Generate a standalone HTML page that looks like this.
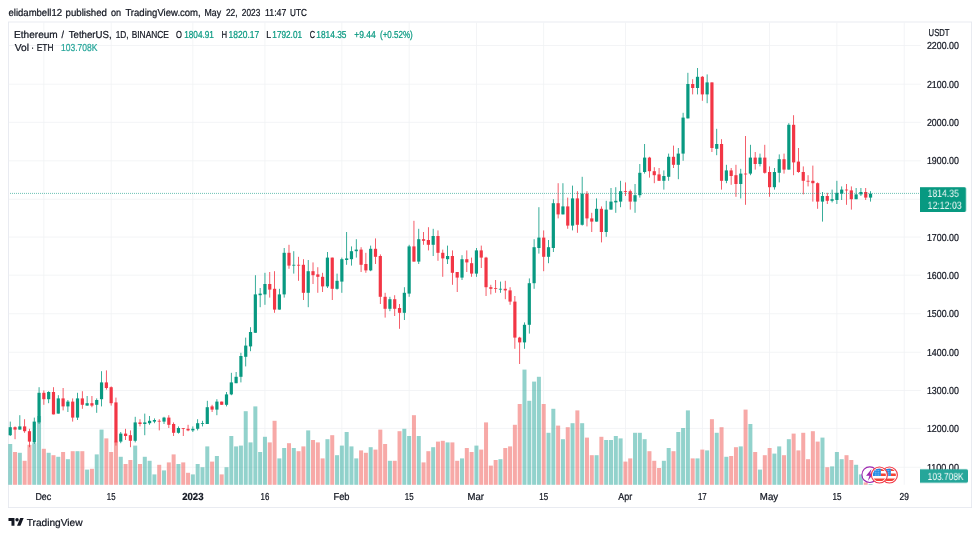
<!DOCTYPE html>
<html><head><meta charset="utf-8"><title>ETHUSDT chart</title>
<style>html,body{margin:0;padding:0;background:#fff}body{width:980px;height:536px;overflow:hidden}svg{display:block;will-change:transform}</style>
</head><body>
<svg width="980" height="536" viewBox="0 0 1225 670" font-family="'Liberation Sans', Arial, sans-serif" font-size="12.7" text-rendering="geometricPrecision" fill="#131722">
<rect width="1225" height="670" fill="#fff"/>
<rect x="10.5" y="27.5" width="1204" height="607" fill="none" stroke="#e4e7ee" stroke-width="1"/>
<rect x="11" y="583.5" width="1140" height="1" fill="#f0f2f4"/>
<rect x="11" y="534.9" width="1140" height="1" fill="#f0f2f4"/>
<rect x="11" y="487.5" width="1140" height="1" fill="#f0f2f4"/>
<rect x="11" y="439.75" width="1140" height="1" fill="#f0f2f4"/>
<rect x="11" y="391.75" width="1140" height="1" fill="#f0f2f4"/>
<rect x="11" y="343.4" width="1140" height="1" fill="#f0f2f4"/>
<rect x="11" y="295.8" width="1140" height="1" fill="#f0f2f4"/>
<rect x="11" y="248.5" width="1140" height="1" fill="#f0f2f4"/>
<rect x="11" y="200.6" width="1140" height="1" fill="#f0f2f4"/>
<rect x="11" y="152.3" width="1140" height="1" fill="#f0f2f4"/>
<rect x="11" y="104.7" width="1140" height="1" fill="#f0f2f4"/>
<rect x="11" y="56.25" width="1140" height="1" fill="#f0f2f4"/>
<rect x="54.33" y="28" width="1" height="578" fill="#f0f2f4"/>
<rect x="138.44" y="28" width="1" height="578" fill="#f0f2f4"/>
<rect x="240.57" y="28" width="1" height="578" fill="#f0f2f4"/>
<rect x="330.69" y="28" width="1" height="578" fill="#f0f2f4"/>
<rect x="426.82" y="28" width="1" height="578" fill="#f0f2f4"/>
<rect x="510.92" y="28" width="1" height="578" fill="#f0f2f4"/>
<rect x="595.03" y="28" width="1" height="578" fill="#f0f2f4"/>
<rect x="679.14" y="28" width="1" height="578" fill="#f0f2f4"/>
<rect x="781.27" y="28" width="1" height="578" fill="#f0f2f4"/>
<rect x="877.4" y="28" width="1" height="578" fill="#f0f2f4"/>
<rect x="961.51" y="28" width="1" height="578" fill="#f0f2f4"/>
<rect x="1045.61" y="28" width="1" height="578" fill="#f0f2f4"/>
<rect x="1129.72" y="28" width="1" height="578" fill="#f0f2f4"/>
<rect x="10.28" y="555" width="5" height="51" fill="rgba(38,166,154,0.5)"/>
<rect x="16.29" y="565" width="5" height="41" fill="rgba(239,83,80,0.5)"/>
<rect x="22.30" y="566" width="5" height="40" fill="rgba(38,166,154,0.5)"/>
<rect x="28.30" y="576" width="5" height="30" fill="rgba(239,83,80,0.5)"/>
<rect x="34.31" y="556" width="5" height="50" fill="rgba(239,83,80,0.5)"/>
<rect x="40.32" y="554" width="5" height="52" fill="rgba(38,166,154,0.5)"/>
<rect x="46.33" y="520" width="5" height="86" fill="rgba(38,166,154,0.5)"/>
<rect x="52.33" y="561" width="5" height="45" fill="rgba(239,83,80,0.5)"/>
<rect x="58.34" y="566" width="5" height="40" fill="rgba(38,166,154,0.5)"/>
<rect x="64.35" y="569" width="5" height="37" fill="rgba(239,83,80,0.5)"/>
<rect x="70.36" y="571" width="5" height="35" fill="rgba(38,166,154,0.5)"/>
<rect x="76.37" y="565" width="5" height="41" fill="rgba(239,83,80,0.5)"/>
<rect x="82.37" y="574" width="5" height="32" fill="rgba(38,166,154,0.5)"/>
<rect x="88.38" y="564" width="5" height="42" fill="rgba(239,83,80,0.5)"/>
<rect x="94.39" y="564" width="5" height="42" fill="rgba(38,166,154,0.5)"/>
<rect x="100.40" y="564" width="5" height="42" fill="rgba(239,83,80,0.5)"/>
<rect x="106.40" y="587" width="5" height="19" fill="rgba(38,166,154,0.5)"/>
<rect x="112.41" y="586" width="5" height="20" fill="rgba(239,83,80,0.5)"/>
<rect x="118.42" y="568" width="5" height="38" fill="rgba(38,166,154,0.5)"/>
<rect x="124.43" y="537" width="5" height="69" fill="rgba(38,166,154,0.5)"/>
<rect x="130.44" y="548" width="5" height="58" fill="rgba(239,83,80,0.5)"/>
<rect x="136.44" y="565" width="5" height="41" fill="rgba(239,83,80,0.5)"/>
<rect x="142.45" y="552" width="5" height="54" fill="rgba(239,83,80,0.5)"/>
<rect x="148.46" y="571" width="5" height="35" fill="rgba(38,166,154,0.5)"/>
<rect x="154.47" y="580" width="5" height="26" fill="rgba(239,83,80,0.5)"/>
<rect x="160.47" y="575" width="5" height="31" fill="rgba(239,83,80,0.5)"/>
<rect x="166.48" y="557" width="5" height="49" fill="rgba(38,166,154,0.5)"/>
<rect x="172.49" y="580" width="5" height="26" fill="rgba(239,83,80,0.5)"/>
<rect x="178.50" y="571" width="5" height="35" fill="rgba(38,166,154,0.5)"/>
<rect x="184.51" y="576" width="5" height="30" fill="rgba(38,166,154,0.5)"/>
<rect x="190.51" y="593" width="5" height="13" fill="rgba(38,166,154,0.5)"/>
<rect x="196.52" y="581" width="5" height="25" fill="rgba(239,83,80,0.5)"/>
<rect x="202.53" y="588" width="5" height="18" fill="rgba(38,166,154,0.5)"/>
<rect x="208.54" y="578" width="5" height="28" fill="rgba(239,83,80,0.5)"/>
<rect x="214.54" y="568" width="5" height="38" fill="rgba(239,83,80,0.5)"/>
<rect x="220.55" y="580" width="5" height="26" fill="rgba(38,166,154,0.5)"/>
<rect x="226.56" y="578" width="5" height="28" fill="rgba(239,83,80,0.5)"/>
<rect x="232.57" y="591" width="5" height="15" fill="rgba(239,83,80,0.5)"/>
<rect x="238.57" y="593" width="5" height="13" fill="rgba(38,166,154,0.5)"/>
<rect x="244.58" y="580" width="5" height="26" fill="rgba(38,166,154,0.5)"/>
<rect x="250.59" y="584" width="5" height="22" fill="rgba(38,166,154,0.5)"/>
<rect x="256.60" y="558" width="5" height="48" fill="rgba(38,166,154,0.5)"/>
<rect x="262.61" y="577" width="5" height="29" fill="rgba(239,83,80,0.5)"/>
<rect x="268.61" y="570" width="5" height="36" fill="rgba(38,166,154,0.5)"/>
<rect x="274.62" y="593" width="5" height="13" fill="rgba(239,83,80,0.5)"/>
<rect x="280.63" y="584" width="5" height="22" fill="rgba(38,166,154,0.5)"/>
<rect x="286.64" y="545" width="5" height="61" fill="rgba(38,166,154,0.5)"/>
<rect x="292.64" y="558" width="5" height="48" fill="rgba(38,166,154,0.5)"/>
<rect x="298.65" y="557" width="5" height="49" fill="rgba(38,166,154,0.5)"/>
<rect x="304.66" y="514" width="5" height="92" fill="rgba(38,166,154,0.5)"/>
<rect x="310.67" y="553" width="5" height="53" fill="rgba(38,166,154,0.5)"/>
<rect x="316.68" y="508" width="5" height="98" fill="rgba(38,166,154,0.5)"/>
<rect x="322.68" y="565" width="5" height="41" fill="rgba(38,166,154,0.5)"/>
<rect x="328.69" y="546" width="5" height="60" fill="rgba(38,166,154,0.5)"/>
<rect x="334.70" y="553" width="5" height="53" fill="rgba(239,83,80,0.5)"/>
<rect x="340.71" y="526" width="5" height="80" fill="rgba(239,83,80,0.5)"/>
<rect x="346.71" y="573" width="5" height="33" fill="rgba(38,166,154,0.5)"/>
<rect x="352.72" y="560" width="5" height="46" fill="rgba(38,166,154,0.5)"/>
<rect x="358.73" y="554" width="5" height="52" fill="rgba(239,83,80,0.5)"/>
<rect x="364.74" y="560" width="5" height="46" fill="rgba(38,166,154,0.5)"/>
<rect x="370.75" y="564" width="5" height="42" fill="rgba(239,83,80,0.5)"/>
<rect x="376.75" y="558" width="5" height="48" fill="rgba(239,83,80,0.5)"/>
<rect x="382.76" y="538" width="5" height="68" fill="rgba(38,166,154,0.5)"/>
<rect x="388.77" y="550" width="5" height="56" fill="rgba(239,83,80,0.5)"/>
<rect x="394.78" y="553" width="5" height="53" fill="rgba(239,83,80,0.5)"/>
<rect x="400.78" y="573" width="5" height="33" fill="rgba(239,83,80,0.5)"/>
<rect x="406.79" y="549" width="5" height="57" fill="rgba(38,166,154,0.5)"/>
<rect x="412.80" y="544" width="5" height="62" fill="rgba(239,83,80,0.5)"/>
<rect x="418.81" y="569" width="5" height="37" fill="rgba(38,166,154,0.5)"/>
<rect x="424.82" y="557" width="5" height="49" fill="rgba(38,166,154,0.5)"/>
<rect x="430.82" y="540" width="5" height="66" fill="rgba(38,166,154,0.5)"/>
<rect x="436.83" y="558" width="5" height="48" fill="rgba(38,166,154,0.5)"/>
<rect x="442.84" y="573" width="5" height="33" fill="rgba(38,166,154,0.5)"/>
<rect x="448.85" y="563" width="5" height="43" fill="rgba(239,83,80,0.5)"/>
<rect x="454.85" y="566" width="5" height="40" fill="rgba(239,83,80,0.5)"/>
<rect x="460.86" y="559" width="5" height="47" fill="rgba(38,166,154,0.5)"/>
<rect x="466.87" y="562" width="5" height="44" fill="rgba(239,83,80,0.5)"/>
<rect x="472.88" y="537" width="5" height="69" fill="rgba(239,83,80,0.5)"/>
<rect x="478.89" y="555" width="5" height="51" fill="rgba(239,83,80,0.5)"/>
<rect x="484.89" y="576" width="5" height="30" fill="rgba(38,166,154,0.5)"/>
<rect x="490.90" y="576" width="5" height="30" fill="rgba(239,83,80,0.5)"/>
<rect x="496.91" y="539" width="5" height="67" fill="rgba(239,83,80,0.5)"/>
<rect x="502.92" y="536" width="5" height="70" fill="rgba(38,166,154,0.5)"/>
<rect x="508.92" y="545" width="5" height="61" fill="rgba(38,166,154,0.5)"/>
<rect x="514.93" y="519" width="5" height="87" fill="rgba(239,83,80,0.5)"/>
<rect x="520.94" y="545" width="5" height="61" fill="rgba(38,166,154,0.5)"/>
<rect x="526.95" y="578" width="5" height="28" fill="rgba(239,83,80,0.5)"/>
<rect x="532.96" y="564" width="5" height="42" fill="rgba(239,83,80,0.5)"/>
<rect x="538.96" y="559" width="5" height="47" fill="rgba(38,166,154,0.5)"/>
<rect x="544.97" y="552" width="5" height="54" fill="rgba(239,83,80,0.5)"/>
<rect x="550.98" y="551" width="5" height="55" fill="rgba(239,83,80,0.5)"/>
<rect x="556.99" y="553" width="5" height="53" fill="rgba(38,166,154,0.5)"/>
<rect x="562.99" y="553" width="5" height="53" fill="rgba(239,83,80,0.5)"/>
<rect x="569.00" y="576" width="5" height="30" fill="rgba(239,83,80,0.5)"/>
<rect x="575.01" y="573" width="5" height="33" fill="rgba(38,166,154,0.5)"/>
<rect x="581.02" y="560" width="5" height="46" fill="rgba(239,83,80,0.5)"/>
<rect x="587.02" y="565" width="5" height="41" fill="rgba(239,83,80,0.5)"/>
<rect x="593.03" y="557" width="5" height="49" fill="rgba(38,166,154,0.5)"/>
<rect x="599.04" y="562" width="5" height="44" fill="rgba(239,83,80,0.5)"/>
<rect x="605.05" y="528" width="5" height="78" fill="rgba(239,83,80,0.5)"/>
<rect x="611.06" y="582" width="5" height="24" fill="rgba(239,83,80,0.5)"/>
<rect x="617.06" y="575" width="5" height="31" fill="rgba(239,83,80,0.5)"/>
<rect x="623.07" y="574" width="5" height="32" fill="rgba(38,166,154,0.5)"/>
<rect x="629.08" y="560" width="5" height="46" fill="rgba(239,83,80,0.5)"/>
<rect x="635.09" y="558" width="5" height="48" fill="rgba(239,83,80,0.5)"/>
<rect x="641.09" y="531" width="5" height="75" fill="rgba(239,83,80,0.5)"/>
<rect x="647.10" y="505" width="5" height="101" fill="rgba(239,83,80,0.5)"/>
<rect x="653.11" y="462" width="5" height="144" fill="rgba(38,166,154,0.5)"/>
<rect x="659.12" y="501" width="5" height="105" fill="rgba(38,166,154,0.5)"/>
<rect x="665.13" y="477" width="5" height="129" fill="rgba(38,166,154,0.5)"/>
<rect x="671.13" y="471" width="5" height="135" fill="rgba(38,166,154,0.5)"/>
<rect x="677.14" y="505" width="5" height="101" fill="rgba(239,83,80,0.5)"/>
<rect x="683.15" y="541" width="5" height="65" fill="rgba(38,166,154,0.5)"/>
<rect x="689.16" y="511" width="5" height="95" fill="rgba(38,166,154,0.5)"/>
<rect x="695.16" y="532" width="5" height="74" fill="rgba(239,83,80,0.5)"/>
<rect x="701.17" y="549" width="5" height="57" fill="rgba(38,166,154,0.5)"/>
<rect x="707.18" y="534" width="5" height="72" fill="rgba(239,83,80,0.5)"/>
<rect x="713.19" y="529" width="5" height="77" fill="rgba(38,166,154,0.5)"/>
<rect x="719.20" y="513" width="5" height="93" fill="rgba(239,83,80,0.5)"/>
<rect x="725.20" y="529" width="5" height="77" fill="rgba(38,166,154,0.5)"/>
<rect x="731.21" y="547" width="5" height="59" fill="rgba(239,83,80,0.5)"/>
<rect x="737.22" y="569" width="5" height="37" fill="rgba(239,83,80,0.5)"/>
<rect x="743.23" y="569" width="5" height="37" fill="rgba(38,166,154,0.5)"/>
<rect x="749.23" y="546" width="5" height="60" fill="rgba(239,83,80,0.5)"/>
<rect x="755.24" y="550" width="5" height="56" fill="rgba(38,166,154,0.5)"/>
<rect x="761.25" y="550" width="5" height="56" fill="rgba(38,166,154,0.5)"/>
<rect x="767.26" y="545" width="5" height="61" fill="rgba(38,166,154,0.5)"/>
<rect x="773.27" y="548" width="5" height="58" fill="rgba(38,166,154,0.5)"/>
<rect x="779.27" y="577" width="5" height="29" fill="rgba(239,83,80,0.5)"/>
<rect x="785.28" y="573" width="5" height="33" fill="rgba(239,83,80,0.5)"/>
<rect x="791.29" y="541" width="5" height="65" fill="rgba(38,166,154,0.5)"/>
<rect x="797.30" y="541" width="5" height="65" fill="rgba(38,166,154,0.5)"/>
<rect x="803.30" y="549" width="5" height="57" fill="rgba(38,166,154,0.5)"/>
<rect x="809.31" y="564" width="5" height="42" fill="rgba(239,83,80,0.5)"/>
<rect x="815.32" y="576" width="5" height="30" fill="rgba(239,83,80,0.5)"/>
<rect x="821.33" y="585" width="5" height="21" fill="rgba(239,83,80,0.5)"/>
<rect x="827.34" y="576" width="5" height="30" fill="rgba(38,166,154,0.5)"/>
<rect x="833.34" y="560" width="5" height="46" fill="rgba(38,166,154,0.5)"/>
<rect x="839.35" y="564" width="5" height="42" fill="rgba(239,83,80,0.5)"/>
<rect x="845.36" y="540" width="5" height="66" fill="rgba(38,166,154,0.5)"/>
<rect x="851.37" y="535" width="5" height="71" fill="rgba(38,166,154,0.5)"/>
<rect x="857.37" y="513" width="5" height="93" fill="rgba(38,166,154,0.5)"/>
<rect x="863.38" y="573" width="5" height="33" fill="rgba(239,83,80,0.5)"/>
<rect x="869.39" y="573" width="5" height="33" fill="rgba(38,166,154,0.5)"/>
<rect x="875.40" y="562" width="5" height="44" fill="rgba(239,83,80,0.5)"/>
<rect x="881.41" y="563" width="5" height="43" fill="rgba(38,166,154,0.5)"/>
<rect x="887.41" y="524" width="5" height="82" fill="rgba(239,83,80,0.5)"/>
<rect x="893.42" y="541" width="5" height="65" fill="rgba(38,166,154,0.5)"/>
<rect x="899.43" y="534" width="5" height="72" fill="rgba(239,83,80,0.5)"/>
<rect x="905.44" y="571" width="5" height="35" fill="rgba(38,166,154,0.5)"/>
<rect x="911.44" y="570" width="5" height="36" fill="rgba(239,83,80,0.5)"/>
<rect x="917.45" y="559" width="5" height="47" fill="rgba(239,83,80,0.5)"/>
<rect x="923.46" y="558" width="5" height="48" fill="rgba(38,166,154,0.5)"/>
<rect x="929.47" y="512" width="5" height="94" fill="rgba(239,83,80,0.5)"/>
<rect x="935.48" y="530" width="5" height="76" fill="rgba(38,166,154,0.5)"/>
<rect x="941.48" y="565" width="5" height="41" fill="rgba(239,83,80,0.5)"/>
<rect x="947.49" y="587" width="5" height="19" fill="rgba(38,166,154,0.5)"/>
<rect x="953.50" y="569" width="5" height="37" fill="rgba(239,83,80,0.5)"/>
<rect x="959.51" y="560" width="5" height="46" fill="rgba(239,83,80,0.5)"/>
<rect x="965.51" y="567" width="5" height="39" fill="rgba(38,166,154,0.5)"/>
<rect x="971.52" y="558" width="5" height="48" fill="rgba(38,166,154,0.5)"/>
<rect x="977.53" y="569" width="5" height="37" fill="rgba(239,83,80,0.5)"/>
<rect x="983.54" y="549" width="5" height="57" fill="rgba(38,166,154,0.5)"/>
<rect x="989.54" y="542" width="5" height="64" fill="rgba(239,83,80,0.5)"/>
<rect x="995.55" y="563" width="5" height="43" fill="rgba(239,83,80,0.5)"/>
<rect x="1001.56" y="541" width="5" height="65" fill="rgba(239,83,80,0.5)"/>
<rect x="1007.57" y="574" width="5" height="32" fill="rgba(239,83,80,0.5)"/>
<rect x="1013.58" y="539" width="5" height="67" fill="rgba(239,83,80,0.5)"/>
<rect x="1019.58" y="552" width="5" height="54" fill="rgba(239,83,80,0.5)"/>
<rect x="1025.59" y="547" width="5" height="59" fill="rgba(38,166,154,0.5)"/>
<rect x="1031.60" y="584" width="5" height="22" fill="rgba(239,83,80,0.5)"/>
<rect x="1037.61" y="583" width="5" height="23" fill="rgba(38,166,154,0.5)"/>
<rect x="1043.61" y="565" width="5" height="41" fill="rgba(38,166,154,0.5)"/>
<rect x="1049.62" y="574" width="5" height="32" fill="rgba(38,166,154,0.5)"/>
<rect x="1055.63" y="569" width="5" height="37" fill="rgba(239,83,80,0.5)"/>
<rect x="1061.64" y="575" width="5" height="31" fill="rgba(239,83,80,0.5)"/>
<rect x="1067.65" y="581" width="5" height="25" fill="rgba(38,166,154,0.5)"/>
<rect x="1073.65" y="593" width="5" height="13" fill="rgba(38,166,154,0.5)"/>
<rect x="1079.66" y="603" width="5" height="3" fill="rgba(239,83,80,0.5)"/>
<rect x="1085.67" y="605" width="5" height="1" fill="rgba(38,166,154,0.5)"/>
<rect x="12.28" y="527" width="1" height="18" fill="#089981"/>
<rect x="10.78" y="534" width="4" height="10" fill="#089981"/>
<rect x="18.29" y="533" width="1" height="16" fill="#f23645"/>
<rect x="16.79" y="534" width="4" height="3" fill="#f23645"/>
<rect x="24.3" y="519" width="1" height="18" fill="#089981"/>
<rect x="22.80" y="533" width="4" height="4" fill="#089981"/>
<rect x="30.3" y="524" width="1" height="17" fill="#f23645"/>
<rect x="28.80" y="533" width="4" height="6" fill="#f23645"/>
<rect x="36.31" y="536" width="1" height="23" fill="#f23645"/>
<rect x="34.81" y="539" width="4" height="13" fill="#f23645"/>
<rect x="42.32" y="522" width="1" height="33" fill="#089981"/>
<rect x="40.82" y="527" width="4" height="26" fill="#089981"/>
<rect x="48.33" y="484" width="1" height="46" fill="#089981"/>
<rect x="46.83" y="491" width="4" height="37" fill="#089981"/>
<rect x="54.33" y="488" width="1" height="18" fill="#f23645"/>
<rect x="52.83" y="491" width="4" height="8" fill="#f23645"/>
<rect x="60.34" y="489" width="1" height="15" fill="#089981"/>
<rect x="58.84" y="490" width="4" height="9" fill="#089981"/>
<rect x="66.35" y="484" width="1" height="34" fill="#f23645"/>
<rect x="64.85" y="490" width="4" height="28" fill="#f23645"/>
<rect x="72.36" y="494" width="1" height="23" fill="#089981"/>
<rect x="70.86" y="498" width="4" height="19" fill="#089981"/>
<rect x="78.37" y="485" width="1" height="28" fill="#f23645"/>
<rect x="76.87" y="498" width="4" height="10" fill="#f23645"/>
<rect x="84.37" y="500" width="1" height="15" fill="#089981"/>
<rect x="82.87" y="502" width="4" height="6" fill="#089981"/>
<rect x="90.38" y="498" width="1" height="29" fill="#f23645"/>
<rect x="88.88" y="502" width="4" height="20" fill="#f23645"/>
<rect x="96.39" y="491" width="1" height="34" fill="#089981"/>
<rect x="94.89" y="498" width="4" height="24" fill="#089981"/>
<rect x="102.4" y="489" width="1" height="22" fill="#f23645"/>
<rect x="100.90" y="498" width="4" height="8" fill="#f23645"/>
<rect x="108.4" y="495" width="1" height="12" fill="#089981"/>
<rect x="106.90" y="504" width="4" height="3" fill="#089981"/>
<rect x="114.41" y="495" width="1" height="14" fill="#f23645"/>
<rect x="112.91" y="504" width="4" height="3" fill="#f23645"/>
<rect x="120.42" y="498" width="1" height="18" fill="#089981"/>
<rect x="118.92" y="500" width="4" height="6" fill="#089981"/>
<rect x="126.43" y="464" width="1" height="44" fill="#089981"/>
<rect x="124.93" y="478" width="4" height="21" fill="#089981"/>
<rect x="132.44" y="463" width="1" height="24" fill="#f23645"/>
<rect x="130.94" y="478" width="4" height="7" fill="#f23645"/>
<rect x="138.44" y="483" width="1" height="24" fill="#f23645"/>
<rect x="136.94" y="484" width="4" height="20" fill="#f23645"/>
<rect x="144.45" y="497" width="1" height="60" fill="#f23645"/>
<rect x="142.95" y="503" width="4" height="50" fill="#f23645"/>
<rect x="150.46" y="540" width="1" height="14" fill="#089981"/>
<rect x="148.96" y="542" width="4" height="10" fill="#089981"/>
<rect x="156.47" y="536" width="1" height="14" fill="#f23645"/>
<rect x="154.97" y="542" width="4" height="3" fill="#f23645"/>
<rect x="162.47" y="538" width="1" height="21" fill="#f23645"/>
<rect x="160.97" y="544" width="4" height="7" fill="#f23645"/>
<rect x="168.48" y="521" width="1" height="32" fill="#089981"/>
<rect x="166.98" y="528" width="4" height="23" fill="#089981"/>
<rect x="174.49" y="524" width="1" height="9" fill="#f23645"/>
<rect x="172.99" y="528" width="4" height="2" fill="#f23645"/>
<rect x="180.5" y="517" width="1" height="27" fill="#089981"/>
<rect x="179.00" y="528" width="4" height="2" fill="#089981"/>
<rect x="186.51" y="520" width="1" height="11" fill="#089981"/>
<rect x="185.01" y="526" width="4" height="3" fill="#089981"/>
<rect x="192.51" y="523" width="1" height="6" fill="#089981"/>
<rect x="191.01" y="525" width="4" height="2" fill="#089981"/>
<rect x="198.52" y="524" width="1" height="14" fill="#f23645"/>
<rect x="197.02" y="526" width="4" height="1" fill="#f23645"/>
<rect x="204.53" y="521" width="1" height="9" fill="#089981"/>
<rect x="203.03" y="522" width="4" height="5" fill="#089981"/>
<rect x="210.54" y="519" width="1" height="16" fill="#f23645"/>
<rect x="209.04" y="522" width="4" height="9" fill="#f23645"/>
<rect x="216.54" y="528" width="1" height="17" fill="#f23645"/>
<rect x="215.04" y="530" width="4" height="11" fill="#f23645"/>
<rect x="222.55" y="533" width="1" height="9" fill="#089981"/>
<rect x="221.05" y="535" width="4" height="6" fill="#089981"/>
<rect x="228.56" y="535" width="1" height="10" fill="#f23645"/>
<rect x="227.06" y="535" width="4" height="1" fill="#f23645"/>
<rect x="234.57" y="531" width="1" height="8" fill="#f23645"/>
<rect x="233.07" y="536" width="4" height="2" fill="#f23645"/>
<rect x="240.57" y="533" width="1" height="7" fill="#089981"/>
<rect x="239.07" y="536" width="4" height="2" fill="#089981"/>
<rect x="246.58" y="524" width="1" height="14" fill="#089981"/>
<rect x="245.08" y="529" width="4" height="7" fill="#089981"/>
<rect x="252.59" y="526" width="1" height="7" fill="#089981"/>
<rect x="251.09" y="529" width="4" height="1" fill="#089981"/>
<rect x="258.6" y="501" width="1" height="29" fill="#089981"/>
<rect x="257.10" y="509" width="4" height="21" fill="#089981"/>
<rect x="264.61" y="506" width="1" height="9" fill="#f23645"/>
<rect x="263.11" y="508" width="4" height="4" fill="#f23645"/>
<rect x="270.61" y="499" width="1" height="20" fill="#089981"/>
<rect x="269.11" y="502" width="4" height="10" fill="#089981"/>
<rect x="276.62" y="502" width="1" height="4" fill="#f23645"/>
<rect x="275.12" y="502" width="4" height="4" fill="#f23645"/>
<rect x="282.63" y="490" width="1" height="18" fill="#089981"/>
<rect x="281.13" y="493" width="4" height="13" fill="#089981"/>
<rect x="288.64" y="466" width="1" height="28" fill="#089981"/>
<rect x="287.14" y="478" width="4" height="15" fill="#089981"/>
<rect x="294.64" y="465" width="1" height="14" fill="#089981"/>
<rect x="293.14" y="471" width="4" height="8" fill="#089981"/>
<rect x="300.65" y="441" width="1" height="37" fill="#089981"/>
<rect x="299.15" y="445" width="4" height="26" fill="#089981"/>
<rect x="306.66" y="422" width="1" height="36" fill="#089981"/>
<rect x="305.16" y="432" width="4" height="14" fill="#089981"/>
<rect x="312.67" y="409" width="1" height="30" fill="#089981"/>
<rect x="311.17" y="415" width="4" height="18" fill="#089981"/>
<rect x="318.68" y="344" width="1" height="72" fill="#089981"/>
<rect x="317.18" y="368" width="4" height="48" fill="#089981"/>
<rect x="324.68" y="360" width="1" height="24" fill="#089981"/>
<rect x="323.18" y="367" width="4" height="2" fill="#089981"/>
<rect x="330.69" y="341" width="1" height="40" fill="#089981"/>
<rect x="329.19" y="355" width="4" height="13" fill="#089981"/>
<rect x="336.7" y="340" width="1" height="32" fill="#f23645"/>
<rect x="335.20" y="355" width="4" height="7" fill="#f23645"/>
<rect x="342.71" y="339" width="1" height="52" fill="#f23645"/>
<rect x="341.21" y="361" width="4" height="26" fill="#f23645"/>
<rect x="348.71" y="361" width="1" height="26" fill="#089981"/>
<rect x="347.21" y="368" width="4" height="19" fill="#089981"/>
<rect x="354.72" y="310" width="1" height="62" fill="#089981"/>
<rect x="353.22" y="316" width="4" height="52" fill="#089981"/>
<rect x="360.73" y="306" width="1" height="30" fill="#f23645"/>
<rect x="359.23" y="316" width="4" height="16" fill="#f23645"/>
<rect x="366.74" y="314" width="1" height="28" fill="#089981"/>
<rect x="365.24" y="331" width="4" height="1" fill="#089981"/>
<rect x="372.75" y="321" width="1" height="30" fill="#f23645"/>
<rect x="371.25" y="331" width="4" height="1" fill="#f23645"/>
<rect x="378.75" y="324" width="1" height="51" fill="#f23645"/>
<rect x="377.25" y="331" width="4" height="35" fill="#f23645"/>
<rect x="384.76" y="325" width="1" height="59" fill="#089981"/>
<rect x="383.26" y="339" width="4" height="27" fill="#089981"/>
<rect x="390.77" y="328" width="1" height="27" fill="#f23645"/>
<rect x="389.27" y="339" width="4" height="5" fill="#f23645"/>
<rect x="396.78" y="334" width="1" height="32" fill="#f23645"/>
<rect x="395.28" y="343" width="4" height="3" fill="#f23645"/>
<rect x="402.78" y="341" width="1" height="24" fill="#f23645"/>
<rect x="401.28" y="346" width="4" height="12" fill="#f23645"/>
<rect x="408.79" y="315" width="1" height="45" fill="#089981"/>
<rect x="407.29" y="322" width="4" height="36" fill="#089981"/>
<rect x="414.8" y="322" width="1" height="53" fill="#f23645"/>
<rect x="413.30" y="322" width="4" height="39" fill="#f23645"/>
<rect x="420.81" y="342" width="1" height="20" fill="#089981"/>
<rect x="419.31" y="351" width="4" height="10" fill="#089981"/>
<rect x="426.82" y="322" width="1" height="44" fill="#089981"/>
<rect x="425.32" y="324" width="4" height="28" fill="#089981"/>
<rect x="432.82" y="290" width="1" height="41" fill="#089981"/>
<rect x="431.32" y="323" width="4" height="2" fill="#089981"/>
<rect x="438.83" y="308" width="1" height="24" fill="#089981"/>
<rect x="437.33" y="314" width="4" height="10" fill="#089981"/>
<rect x="444.84" y="299" width="1" height="23" fill="#089981"/>
<rect x="443.34" y="312" width="4" height="2" fill="#089981"/>
<rect x="450.85" y="309" width="1" height="31" fill="#f23645"/>
<rect x="449.35" y="312" width="4" height="19" fill="#f23645"/>
<rect x="456.85" y="316" width="1" height="25" fill="#f23645"/>
<rect x="455.35" y="330" width="4" height="8" fill="#f23645"/>
<rect x="462.86" y="307" width="1" height="32" fill="#089981"/>
<rect x="461.36" y="311" width="4" height="27" fill="#089981"/>
<rect x="468.87" y="298" width="1" height="32" fill="#f23645"/>
<rect x="467.37" y="311" width="4" height="10" fill="#f23645"/>
<rect x="474.88" y="318" width="1" height="62" fill="#f23645"/>
<rect x="473.38" y="320" width="4" height="51" fill="#f23645"/>
<rect x="480.89" y="366" width="1" height="31" fill="#f23645"/>
<rect x="479.39" y="371" width="4" height="15" fill="#f23645"/>
<rect x="486.89" y="371" width="1" height="18" fill="#089981"/>
<rect x="485.39" y="374" width="4" height="12" fill="#089981"/>
<rect x="492.9" y="369" width="1" height="26" fill="#f23645"/>
<rect x="491.40" y="374" width="4" height="12" fill="#f23645"/>
<rect x="498.91" y="380" width="1" height="31" fill="#f23645"/>
<rect x="497.41" y="385" width="4" height="6" fill="#f23645"/>
<rect x="504.92" y="359" width="1" height="41" fill="#089981"/>
<rect x="503.42" y="366" width="4" height="25" fill="#089981"/>
<rect x="510.92" y="306" width="1" height="65" fill="#089981"/>
<rect x="509.42" y="308" width="4" height="59" fill="#089981"/>
<rect x="516.93" y="276" width="1" height="51" fill="#f23645"/>
<rect x="515.43" y="308" width="4" height="19" fill="#f23645"/>
<rect x="522.94" y="286" width="1" height="44" fill="#089981"/>
<rect x="521.44" y="299" width="4" height="28" fill="#089981"/>
<rect x="528.95" y="290" width="1" height="16" fill="#f23645"/>
<rect x="527.45" y="299" width="4" height="2" fill="#f23645"/>
<rect x="534.96" y="284" width="1" height="29" fill="#f23645"/>
<rect x="533.46" y="300" width="4" height="6" fill="#f23645"/>
<rect x="540.96" y="286" width="1" height="34" fill="#089981"/>
<rect x="539.46" y="295" width="4" height="11" fill="#089981"/>
<rect x="546.97" y="288" width="1" height="38" fill="#f23645"/>
<rect x="545.47" y="295" width="4" height="21" fill="#f23645"/>
<rect x="552.98" y="312" width="1" height="34" fill="#f23645"/>
<rect x="551.48" y="316" width="4" height="7" fill="#f23645"/>
<rect x="558.99" y="307" width="1" height="23" fill="#089981"/>
<rect x="557.49" y="320" width="4" height="4" fill="#089981"/>
<rect x="564.99" y="313" width="1" height="43" fill="#f23645"/>
<rect x="563.49" y="320" width="4" height="21" fill="#f23645"/>
<rect x="571.0" y="340" width="1" height="25" fill="#f23645"/>
<rect x="569.50" y="340" width="4" height="7" fill="#f23645"/>
<rect x="577.01" y="319" width="1" height="31" fill="#089981"/>
<rect x="575.51" y="324" width="4" height="23" fill="#089981"/>
<rect x="583.02" y="313" width="1" height="27" fill="#f23645"/>
<rect x="581.52" y="324" width="4" height="4" fill="#f23645"/>
<rect x="589.02" y="322" width="1" height="24" fill="#f23645"/>
<rect x="587.52" y="329" width="4" height="13" fill="#f23645"/>
<rect x="595.03" y="310" width="1" height="36" fill="#089981"/>
<rect x="593.53" y="313" width="4" height="29" fill="#089981"/>
<rect x="601.04" y="307" width="1" height="28" fill="#f23645"/>
<rect x="599.54" y="313" width="4" height="9" fill="#f23645"/>
<rect x="607.05" y="321" width="1" height="49" fill="#f23645"/>
<rect x="605.55" y="322" width="4" height="37" fill="#f23645"/>
<rect x="613.06" y="356" width="1" height="12" fill="#f23645"/>
<rect x="611.56" y="359" width="4" height="2" fill="#f23645"/>
<rect x="619.06" y="350" width="1" height="16" fill="#f23645"/>
<rect x="617.56" y="360" width="4" height="1" fill="#f23645"/>
<rect x="625.07" y="352" width="1" height="14" fill="#089981"/>
<rect x="623.57" y="361" width="4" height="1" fill="#089981"/>
<rect x="631.08" y="351" width="1" height="23" fill="#f23645"/>
<rect x="629.58" y="361" width="4" height="2" fill="#f23645"/>
<rect x="637.09" y="359" width="1" height="22" fill="#f23645"/>
<rect x="635.59" y="363" width="4" height="14" fill="#f23645"/>
<rect x="643.09" y="370" width="1" height="66" fill="#f23645"/>
<rect x="641.59" y="377" width="4" height="45" fill="#f23645"/>
<rect x="649.1" y="421" width="1" height="34" fill="#f23645"/>
<rect x="647.60" y="422" width="4" height="6" fill="#f23645"/>
<rect x="655.11" y="403" width="1" height="33" fill="#089981"/>
<rect x="653.61" y="406" width="4" height="22" fill="#089981"/>
<rect x="661.12" y="348" width="1" height="69" fill="#089981"/>
<rect x="659.62" y="354" width="4" height="52" fill="#089981"/>
<rect x="667.13" y="299" width="1" height="62" fill="#089981"/>
<rect x="665.63" y="309" width="4" height="45" fill="#089981"/>
<rect x="673.13" y="259" width="1" height="58" fill="#089981"/>
<rect x="671.63" y="297" width="4" height="13" fill="#089981"/>
<rect x="679.14" y="288" width="1" height="51" fill="#f23645"/>
<rect x="677.64" y="297" width="4" height="24" fill="#f23645"/>
<rect x="685.15" y="300" width="1" height="29" fill="#089981"/>
<rect x="683.65" y="309" width="4" height="12" fill="#089981"/>
<rect x="691.16" y="249" width="1" height="66" fill="#089981"/>
<rect x="689.66" y="254" width="4" height="56" fill="#089981"/>
<rect x="697.16" y="229" width="1" height="44" fill="#f23645"/>
<rect x="695.66" y="254" width="4" height="14" fill="#f23645"/>
<rect x="703.17" y="229" width="1" height="39" fill="#089981"/>
<rect x="701.67" y="258" width="4" height="10" fill="#089981"/>
<rect x="709.18" y="247" width="1" height="39" fill="#f23645"/>
<rect x="707.68" y="258" width="4" height="24" fill="#f23645"/>
<rect x="715.19" y="232" width="1" height="56" fill="#089981"/>
<rect x="713.69" y="248" width="4" height="34" fill="#089981"/>
<rect x="721.2" y="239" width="1" height="52" fill="#f23645"/>
<rect x="719.70" y="248" width="4" height="33" fill="#f23645"/>
<rect x="727.2" y="221" width="1" height="61" fill="#089981"/>
<rect x="725.70" y="242" width="4" height="39" fill="#089981"/>
<rect x="733.21" y="239" width="1" height="44" fill="#f23645"/>
<rect x="731.71" y="242" width="4" height="31" fill="#f23645"/>
<rect x="739.22" y="266" width="1" height="24" fill="#f23645"/>
<rect x="737.72" y="273" width="4" height="4" fill="#f23645"/>
<rect x="745.23" y="248" width="1" height="29" fill="#089981"/>
<rect x="743.73" y="261" width="4" height="16" fill="#089981"/>
<rect x="751.23" y="258" width="1" height="45" fill="#f23645"/>
<rect x="749.73" y="261" width="4" height="29" fill="#f23645"/>
<rect x="757.24" y="251" width="1" height="45" fill="#089981"/>
<rect x="755.74" y="262" width="4" height="28" fill="#089981"/>
<rect x="763.25" y="235" width="1" height="27" fill="#089981"/>
<rect x="761.75" y="252" width="4" height="10" fill="#089981"/>
<rect x="769.26" y="234" width="1" height="32" fill="#089981"/>
<rect x="767.76" y="251" width="4" height="2" fill="#089981"/>
<rect x="775.27" y="226" width="1" height="33" fill="#089981"/>
<rect x="773.77" y="239" width="4" height="13" fill="#089981"/>
<rect x="781.27" y="228" width="1" height="17" fill="#f23645"/>
<rect x="779.77" y="239" width="4" height="1" fill="#f23645"/>
<rect x="787.28" y="237" width="1" height="25" fill="#f23645"/>
<rect x="785.78" y="239" width="4" height="13" fill="#f23645"/>
<rect x="793.29" y="230" width="1" height="36" fill="#089981"/>
<rect x="791.79" y="244" width="4" height="8" fill="#089981"/>
<rect x="799.3" y="205" width="1" height="42" fill="#089981"/>
<rect x="797.80" y="216" width="4" height="28" fill="#089981"/>
<rect x="805.3" y="180" width="1" height="37" fill="#089981"/>
<rect x="803.80" y="197" width="4" height="18" fill="#089981"/>
<rect x="811.31" y="196" width="1" height="26" fill="#f23645"/>
<rect x="809.81" y="197" width="4" height="17" fill="#f23645"/>
<rect x="817.32" y="209" width="1" height="20" fill="#f23645"/>
<rect x="815.82" y="214" width="4" height="5" fill="#f23645"/>
<rect x="823.33" y="210" width="1" height="16" fill="#f23645"/>
<rect x="821.83" y="218" width="4" height="8" fill="#f23645"/>
<rect x="829.34" y="213" width="1" height="24" fill="#089981"/>
<rect x="827.84" y="220" width="4" height="6" fill="#089981"/>
<rect x="835.34" y="192" width="1" height="34" fill="#089981"/>
<rect x="833.84" y="196" width="4" height="25" fill="#089981"/>
<rect x="841.35" y="182" width="1" height="28" fill="#f23645"/>
<rect x="839.85" y="196" width="4" height="10" fill="#f23645"/>
<rect x="847.36" y="185" width="1" height="39" fill="#089981"/>
<rect x="845.86" y="192" width="4" height="14" fill="#089981"/>
<rect x="853.37" y="141" width="1" height="60" fill="#089981"/>
<rect x="851.87" y="147" width="4" height="45" fill="#089981"/>
<rect x="859.37" y="91" width="1" height="57" fill="#089981"/>
<rect x="857.87" y="105" width="4" height="43" fill="#089981"/>
<rect x="865.38" y="99" width="1" height="19" fill="#f23645"/>
<rect x="863.88" y="105" width="4" height="5" fill="#f23645"/>
<rect x="871.39" y="85" width="1" height="33" fill="#089981"/>
<rect x="869.89" y="96" width="4" height="14" fill="#089981"/>
<rect x="877.4" y="95" width="1" height="31" fill="#f23645"/>
<rect x="875.90" y="96" width="4" height="22" fill="#f23645"/>
<rect x="883.41" y="93" width="1" height="36" fill="#089981"/>
<rect x="881.91" y="103" width="4" height="15" fill="#089981"/>
<rect x="889.41" y="103" width="1" height="87" fill="#f23645"/>
<rect x="887.91" y="103" width="4" height="82" fill="#f23645"/>
<rect x="895.42" y="161" width="1" height="33" fill="#089981"/>
<rect x="893.92" y="180" width="4" height="6" fill="#089981"/>
<rect x="901.43" y="174" width="1" height="63" fill="#f23645"/>
<rect x="899.93" y="180" width="4" height="46" fill="#f23645"/>
<rect x="907.44" y="206" width="1" height="23" fill="#089981"/>
<rect x="905.94" y="213" width="4" height="13" fill="#089981"/>
<rect x="913.44" y="210" width="1" height="21" fill="#f23645"/>
<rect x="911.94" y="213" width="4" height="7" fill="#f23645"/>
<rect x="919.45" y="206" width="1" height="40" fill="#f23645"/>
<rect x="917.95" y="219" width="4" height="11" fill="#f23645"/>
<rect x="925.46" y="211" width="1" height="37" fill="#089981"/>
<rect x="923.96" y="217" width="4" height="13" fill="#089981"/>
<rect x="931.47" y="170" width="1" height="86" fill="#f23645"/>
<rect x="929.97" y="217" width="4" height="1" fill="#f23645"/>
<rect x="937.48" y="181" width="1" height="38" fill="#089981"/>
<rect x="935.98" y="197" width="4" height="20" fill="#089981"/>
<rect x="943.48" y="190" width="1" height="22" fill="#f23645"/>
<rect x="941.98" y="197" width="4" height="8" fill="#f23645"/>
<rect x="949.49" y="192" width="1" height="16" fill="#089981"/>
<rect x="947.99" y="197" width="4" height="8" fill="#089981"/>
<rect x="955.5" y="181" width="1" height="36" fill="#f23645"/>
<rect x="954.00" y="197" width="4" height="19" fill="#f23645"/>
<rect x="961.51" y="208" width="1" height="38" fill="#f23645"/>
<rect x="960.01" y="215" width="4" height="19" fill="#f23645"/>
<rect x="967.51" y="210" width="1" height="27" fill="#089981"/>
<rect x="966.01" y="215" width="4" height="19" fill="#089981"/>
<rect x="973.52" y="193" width="1" height="35" fill="#089981"/>
<rect x="972.02" y="199" width="4" height="17" fill="#089981"/>
<rect x="979.53" y="192" width="1" height="25" fill="#f23645"/>
<rect x="978.03" y="199" width="4" height="13" fill="#f23645"/>
<rect x="985.54" y="154" width="1" height="58" fill="#089981"/>
<rect x="984.04" y="156" width="4" height="56" fill="#089981"/>
<rect x="991.54" y="144" width="1" height="75" fill="#f23645"/>
<rect x="990.04" y="156" width="4" height="47" fill="#f23645"/>
<rect x="997.55" y="185" width="1" height="31" fill="#f23645"/>
<rect x="996.05" y="202" width="4" height="13" fill="#f23645"/>
<rect x="1003.56" y="208" width="1" height="35" fill="#f23645"/>
<rect x="1002.06" y="215" width="4" height="11" fill="#f23645"/>
<rect x="1009.57" y="219" width="1" height="14" fill="#f23645"/>
<rect x="1008.07" y="226" width="4" height="1" fill="#f23645"/>
<rect x="1015.58" y="207" width="1" height="45" fill="#f23645"/>
<rect x="1014.08" y="226" width="4" height="3" fill="#f23645"/>
<rect x="1021.58" y="228" width="1" height="33" fill="#f23645"/>
<rect x="1020.08" y="229" width="4" height="23" fill="#f23645"/>
<rect x="1027.59" y="240" width="1" height="37" fill="#089981"/>
<rect x="1026.09" y="245" width="4" height="7" fill="#089981"/>
<rect x="1033.6" y="241" width="1" height="14" fill="#f23645"/>
<rect x="1032.10" y="245" width="4" height="6" fill="#f23645"/>
<rect x="1039.61" y="237" width="1" height="16" fill="#089981"/>
<rect x="1038.11" y="249" width="4" height="2" fill="#089981"/>
<rect x="1045.61" y="226" width="1" height="29" fill="#089981"/>
<rect x="1044.11" y="241" width="4" height="9" fill="#089981"/>
<rect x="1051.62" y="233" width="1" height="17" fill="#089981"/>
<rect x="1050.12" y="237" width="4" height="5" fill="#089981"/>
<rect x="1057.63" y="230" width="1" height="26" fill="#f23645"/>
<rect x="1056.13" y="237" width="4" height="1" fill="#f23645"/>
<rect x="1063.64" y="233" width="1" height="29" fill="#f23645"/>
<rect x="1062.14" y="238" width="4" height="11" fill="#f23645"/>
<rect x="1069.65" y="235" width="1" height="14" fill="#089981"/>
<rect x="1068.15" y="243" width="4" height="6" fill="#089981"/>
<rect x="1075.65" y="235" width="1" height="10" fill="#089981"/>
<rect x="1074.15" y="240" width="4" height="3" fill="#089981"/>
<rect x="1081.66" y="235" width="1" height="15" fill="#f23645"/>
<rect x="1080.16" y="240" width="4" height="7" fill="#f23645"/>
<rect x="1087.67" y="239" width="1" height="13" fill="#089981"/>
<rect x="1086.17" y="242" width="4" height="5" fill="#089981"/>
<line x1="12.5" y1="241.75" x2="1151" y2="241.75" stroke="#089981" stroke-width="1" stroke-dasharray="1.1 1.4" stroke-opacity="0.85"/>
<text x="1160.75" y="44.8" textLength="26.06" lengthAdjust="spacingAndGlyphs" stroke="#131722" stroke-width="0.3">USDT</text>
<text x="1158.6" y="588.4" textLength="40.05" lengthAdjust="spacingAndGlyphs" stroke="#131722" stroke-width="0.3">1100.00</text>
<text x="1158.6" y="539.8" textLength="40.05" lengthAdjust="spacingAndGlyphs" stroke="#131722" stroke-width="0.3">1200.00</text>
<text x="1158.6" y="492.4" textLength="40.05" lengthAdjust="spacingAndGlyphs" stroke="#131722" stroke-width="0.3">1300.00</text>
<text x="1158.6" y="444.6" textLength="40.05" lengthAdjust="spacingAndGlyphs" stroke="#131722" stroke-width="0.3">1400.00</text>
<text x="1158.6" y="396.6" textLength="40.05" lengthAdjust="spacingAndGlyphs" stroke="#131722" stroke-width="0.3">1500.00</text>
<text x="1158.6" y="348.3" textLength="40.05" lengthAdjust="spacingAndGlyphs" stroke="#131722" stroke-width="0.3">1600.00</text>
<text x="1158.6" y="300.7" textLength="40.05" lengthAdjust="spacingAndGlyphs" stroke="#131722" stroke-width="0.3">1700.00</text>
<text x="1158.6" y="253.4" textLength="40.05" lengthAdjust="spacingAndGlyphs" stroke="#131722" stroke-width="0.3">1800.00</text>
<text x="1158.6" y="205.5" textLength="40.05" lengthAdjust="spacingAndGlyphs" stroke="#131722" stroke-width="0.3">1900.00</text>
<text x="1158.6" y="157.2" textLength="40.05" lengthAdjust="spacingAndGlyphs" stroke="#131722" stroke-width="0.3">2000.00</text>
<text x="1158.6" y="109.6" textLength="40.05" lengthAdjust="spacingAndGlyphs" stroke="#131722" stroke-width="0.3">2100.00</text>
<text x="1158.6" y="61.1" textLength="40.05" lengthAdjust="spacingAndGlyphs" stroke="#131722" stroke-width="0.3">2200.00</text>
<text x="44.26" y="625" textLength="19.7" lengthAdjust="spacingAndGlyphs" stroke="#131722" stroke-width="0.3">Dec</text>
<text x="133.54" y="625" textLength="10.84" lengthAdjust="spacingAndGlyphs" stroke="#131722" stroke-width="0.3">15</text>
<text x="227.77" y="625" textLength="26.65" lengthAdjust="spacingAndGlyphs" stroke="#131722" stroke-width="0.3" font-weight="bold">2023</text>
<text x="325.74" y="625" textLength="10.94" lengthAdjust="spacingAndGlyphs" stroke="#131722" stroke-width="0.3">16</text>
<text x="416.85" y="625" textLength="20.07" lengthAdjust="spacingAndGlyphs" stroke="#131722" stroke-width="0.3">Feb</text>
<text x="505.92" y="625" textLength="11.04" lengthAdjust="spacingAndGlyphs" stroke="#131722" stroke-width="0.3">15</text>
<text x="584.44" y="625" textLength="20.51" lengthAdjust="spacingAndGlyphs" stroke="#131722" stroke-width="0.3">Mar</text>
<text x="674.14" y="625" textLength="11.04" lengthAdjust="spacingAndGlyphs" stroke="#131722" stroke-width="0.3">15</text>
<text x="772.72" y="625" textLength="17.42" lengthAdjust="spacingAndGlyphs" stroke="#131722" stroke-width="0.3">Apr</text>
<text x="872.45" y="625" textLength="10.94" lengthAdjust="spacingAndGlyphs" stroke="#131722" stroke-width="0.3">17</text>
<text x="949.81" y="625" textLength="22.83" lengthAdjust="spacingAndGlyphs" stroke="#131722" stroke-width="0.3">May</text>
<text x="1040.51" y="625" textLength="11.24" lengthAdjust="spacingAndGlyphs" stroke="#131722" stroke-width="0.3">15</text>
<text x="1124.42" y="625" textLength="11.65" lengthAdjust="spacingAndGlyphs" stroke="#131722" stroke-width="0.3">29</text>
<text x="10.6" y="19.8" textLength="66.95" lengthAdjust="spacingAndGlyphs" stroke="#131722" stroke-width="0.3">elidambell12</text>
<text x="82.0" y="19.8" textLength="51.65" lengthAdjust="spacingAndGlyphs" stroke="#131722" stroke-width="0.3">published</text>
<text x="138.75" y="19.8" textLength="12.7" lengthAdjust="spacingAndGlyphs" stroke="#131722" stroke-width="0.3">on</text>
<text x="156.75" y="19.8" textLength="94.14" lengthAdjust="spacingAndGlyphs" stroke="#131722" stroke-width="0.3">TradingView.com,</text>
<text x="255.64" y="19.8" textLength="20.7" lengthAdjust="spacingAndGlyphs" stroke="#131722" stroke-width="0.3">May</text>
<text x="282.4" y="19.8" textLength="14.64" lengthAdjust="spacingAndGlyphs" stroke="#131722" stroke-width="0.3">22,</text>
<text x="302.25" y="19.8" textLength="23.05" lengthAdjust="spacingAndGlyphs" stroke="#131722" stroke-width="0.3">2023</text>
<text x="331.4" y="19.8" textLength="26.55" lengthAdjust="spacingAndGlyphs" stroke="#131722" stroke-width="0.3">11:47</text>
<text x="362.6" y="19.8" textLength="20.93" lengthAdjust="spacingAndGlyphs" stroke="#131722" stroke-width="0.3">UTC</text>
<text x="17.61" y="47.2" textLength="54.56" lengthAdjust="spacingAndGlyphs" stroke="#131722" stroke-width="0.3">Ethereum</text>
<text x="76.9" y="47.2" textLength="3.08" lengthAdjust="spacingAndGlyphs" stroke="#131722" stroke-width="0.3">/</text>
<text x="85.9" y="47.2" textLength="53.6" lengthAdjust="spacingAndGlyphs" stroke="#131722" stroke-width="0.3">TetherUS,</text>
<text x="144.7" y="47.2" textLength="16.13" lengthAdjust="spacingAndGlyphs" stroke="#131722" stroke-width="0.3">1D,</text>
<text x="164.68" y="47.2" textLength="46.3" lengthAdjust="spacingAndGlyphs" stroke="#131722" stroke-width="0.3">BINANCE</text>
<text x="220.0" y="47.2" textLength="7.4" lengthAdjust="spacingAndGlyphs" stroke="#131722" stroke-width="0.3">O</text>
<text x="230.25" y="47.2" textLength="37.2" lengthAdjust="spacingAndGlyphs" fill="#089981" stroke="#089981" stroke-width="0.3">1804.91</text>
<text x="276.74" y="47.2" textLength="6.99" lengthAdjust="spacingAndGlyphs" stroke="#131722" stroke-width="0.3">H</text>
<text x="285.75" y="47.2" textLength="38.2" lengthAdjust="spacingAndGlyphs" fill="#089981" stroke="#089981" stroke-width="0.3">1820.17</text>
<text x="332.74" y="47.2" textLength="6.06" lengthAdjust="spacingAndGlyphs" stroke="#131722" stroke-width="0.3">L</text>
<text x="340.4" y="47.2" textLength="37.15" lengthAdjust="spacingAndGlyphs" fill="#089981" stroke="#089981" stroke-width="0.3">1792.01</text>
<text x="387.3" y="47.2" textLength="6.57" lengthAdjust="spacingAndGlyphs" stroke="#131722" stroke-width="0.3">C</text>
<text x="395.4" y="47.2" textLength="37.75" lengthAdjust="spacingAndGlyphs" fill="#089981" stroke="#089981" stroke-width="0.3">1814.35</text>
<text x="442.75" y="47.2" textLength="26.8" lengthAdjust="spacingAndGlyphs" fill="#089981" stroke="#089981" stroke-width="0.3">+9.44</text>
<text x="475.0" y="47.2" textLength="40.98" lengthAdjust="spacingAndGlyphs" fill="#089981" stroke="#089981" stroke-width="0.3">(+0.52%)</text>
<text x="18.6" y="64.1" textLength="17.72" lengthAdjust="spacingAndGlyphs" stroke="#131722" stroke-width="0.3">Vol</text>
<text x="39.1" y="64.1" textLength="3.38" lengthAdjust="spacingAndGlyphs" stroke="#131722" stroke-width="0.3">·</text>
<text x="45.92" y="64.1" textLength="20.96" lengthAdjust="spacingAndGlyphs" stroke="#131722" stroke-width="0.3">ETH</text>
<text x="76.3" y="64.1" textLength="45.5" lengthAdjust="spacingAndGlyphs" fill="#26a69a" stroke="#26a69a" stroke-width="0.3">103.708K</text>
<text x="33.5" y="657.8" textLength="69.66" lengthAdjust="spacingAndGlyphs" stroke="#131722" stroke-width="0.3">TradingView</text>
<circle cx="1087.2" cy="593.4" r="9.8" fill="#fff" stroke="#9c27b0" stroke-width="1.4"/>
<path d="M1089.4 586.4 L1082.6000000000001 594.6 L1086.8 594.6 L1084.8 600.8 L1092.0 592.0 L1087.8 592.0 Z" fill="#9c27b0"/>
<g><circle cx="1111.75" cy="593.75" r="10.0" fill="#fff" stroke="#f23645" stroke-width="1.4"/>
<clipPath id="cl1111"><circle cx="1111.75" cy="593.75" r="8.2"/></clipPath><g clip-path="url(#cl1111)">
<rect x="1103.55" y="585.55" width="16.4" height="16.4" fill="#fff"/>
<rect x="1103.55" y="585.55" width="16.4" height="3.15" fill="#f44336"/>
<rect x="1103.55" y="591.85" width="16.4" height="3.15" fill="#f44336"/>
<rect x="1103.55" y="598.15" width="16.4" height="3.15" fill="#f44336"/>
<rect x="1103.55" y="585.55" width="10.1" height="9.45" fill="#1e88e5"/>
<line x1="1106.05" y1="588.38" x2="1113.05" y2="588.38" stroke="#fff" stroke-width="0.9" stroke-dasharray="1.2 0.9" opacity="0.8"/>
<line x1="1106.05" y1="591.06" x2="1113.05" y2="591.06" stroke="#fff" stroke-width="0.9" stroke-dasharray="1.2 0.9" opacity="0.8"/>
<line x1="1106.05" y1="593.74" x2="1113.05" y2="593.74" stroke="#fff" stroke-width="0.9" stroke-dasharray="1.2 0.9" opacity="0.8"/>
</g></g>
<g><circle cx="1099.25" cy="593.75" r="10.0" fill="#fff" stroke="#f23645" stroke-width="1.4"/>
<clipPath id="cl1099"><circle cx="1099.25" cy="593.75" r="8.2"/></clipPath><g clip-path="url(#cl1099)">
<rect x="1091.05" y="585.55" width="16.4" height="16.4" fill="#fff"/>
<rect x="1091.05" y="585.55" width="16.4" height="3.15" fill="#f44336"/>
<rect x="1091.05" y="591.85" width="16.4" height="3.15" fill="#f44336"/>
<rect x="1091.05" y="598.15" width="16.4" height="3.15" fill="#f44336"/>
<rect x="1091.05" y="585.55" width="10.1" height="9.45" fill="#1e88e5"/>
<line x1="1093.55" y1="588.38" x2="1100.55" y2="588.38" stroke="#fff" stroke-width="0.9" stroke-dasharray="1.2 0.9" opacity="0.8"/>
<line x1="1093.55" y1="591.06" x2="1100.55" y2="591.06" stroke="#fff" stroke-width="0.9" stroke-dasharray="1.2 0.9" opacity="0.8"/>
<line x1="1093.55" y1="593.74" x2="1100.55" y2="593.74" stroke="#fff" stroke-width="0.9" stroke-dasharray="1.2 0.9" opacity="0.8"/>
</g></g>
<path d="M1150 586.5h58a2 2 0 0 1 2 2v13a2 2 0 0 1 -2 2h-58z" fill="#26a69a"/>
<path d="M1150 234h55.5a2 2 0 0 1 2 2v27a2 2 0 0 1 -2 2h-55.5z" fill="#089981"/>
<text x="1159.6" y="599.5" textLength="44.86" lengthAdjust="spacingAndGlyphs" fill="#fff">103.708K</text>
<text x="1159.6" y="246.2" textLength="39.05" lengthAdjust="spacingAndGlyphs" fill="#fff">1814.35</text>
<text x="1159.6" y="260.6" textLength="42.45" lengthAdjust="spacingAndGlyphs" fill="#fff">12:12:03</text>
<g transform="translate(10.6,645.4) scale(0.535)" fill="#131722"><path d="M14 22H7V11H0V4h14v18z"/><path d="M28 22h-8l7.5-18h8L28 22z"/><circle cx="20" cy="8" r="4"/></g>
</svg>
</body></html>
